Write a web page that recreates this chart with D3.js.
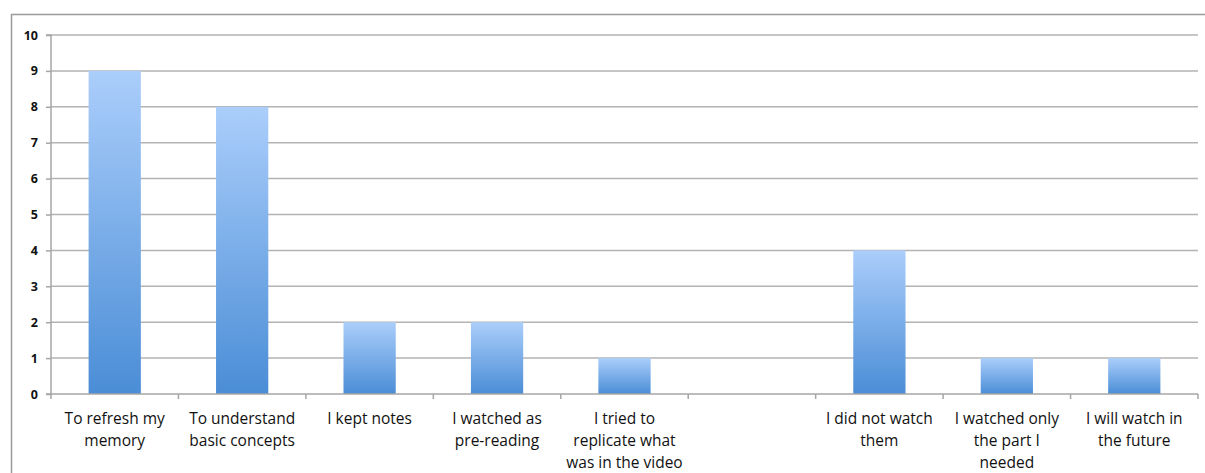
<!DOCTYPE html>
<html>
<head>
<meta charset="utf-8">
<script src="https://cdn.jsdelivr.net/npm/d3@7"></script>
<style>
  html, body { margin: 0; padding: 0; background: #fff; }
  svg { display: block; }
</style>
</head>
<body>
<svg id="chart" width="1205" height="473"></svg>
<script>
// Reasons given for watching (or not watching) the videos
const categories = [
  "To refresh my|memory",
  "To understand|basic concepts",
  "I kept notes",
  "I watched as|pre-reading",
  "I tried to|replicate what|was in the video",
  " ",
  "I did not watch|them",
  "I watched only|the part I|needed",
  "I will watch in|the future"
];
const counts = [9, 8, 2, 2, 1, null, 4, 1, 1];
const yTicks = [0, 1, 2, 3, 4, 5, 6, 7, 8, 9, 10];

const svg = d3.select("#chart");
const margin = { left: 51, right: 7, top: 35, bottom: 79 };
const W = 1205, H = 473;

const x = d3.scaleBand()
  .domain(categories)
  .range([margin.left, W - margin.right])
  .paddingInner(0.59)
  .paddingOuter(0.295);

const y = d3.scaleLinear().domain([0, 10]).range([H - margin.bottom, margin.top]);

// outer chart frame (top and left edges visible)
svg.append("path")
  .attr("d", `M11.5,${H} V14.5 H${W}`)
  .attr("fill", "none").attr("stroke", "#9a9a9a").attr("stroke-width", 1.5);

// bar gradient
const defs = svg.append("defs");
const grad = defs.append("linearGradient").attr("id", "barGrad")
  .attr("x1", 0).attr("y1", 0).attr("x2", 0).attr("y2", 1);
grad.append("stop").attr("offset", "0%").attr("stop-color", "#abcefb");
grad.append("stop").attr("offset", "100%").attr("stop-color", "#4a8dd6");

// horizontal gridlines
svg.append("g")
  .selectAll("line")
  .data(yTicks.filter(d => d > 0))
  .join("line")
  .attr("x1", margin.left).attr("x2", W - margin.right)
  .attr("y1", d => y(d)).attr("y2", d => y(d))
  .attr("stroke", "#b3b3b3").attr("stroke-width", 1.5);

// y axis
const yAxis = svg.append("g")
  .attr("transform", `translate(${margin.left},0)`)
  .call(d3.axisLeft(y).tickValues(yTicks).tickSize(5).tickPadding(8).tickFormat(d3.format("d")));
yAxis.select(".domain").attr("stroke", "#a6a6a6").attr("stroke-width", 1.5)
  .attr("d", `M-5,${y(10)}H0V${y(0)}H-5`);
yAxis.selectAll(".tick line").attr("stroke", "#a6a6a6").attr("stroke-width", 1.5);
yAxis.selectAll(".tick text")
  .attr("font-family", "'Open Sans', sans-serif")
  .attr("font-size", 12.5).attr("font-weight", "bold").attr("fill", "#111");

// bars
svg.append("g")
  .selectAll("rect")
  .data(categories.map((c, i) => ({ c, v: counts[i] })).filter(d => d.v != null))
  .join("rect")
  .attr("x", d => x(d.c))
  .attr("width", x.bandwidth())
  .attr("y", d => y(d.v))
  .attr("height", d => y(0) - y(d.v))
  .attr("fill", "url(#barGrad)");

// category axis
const step = x.step();
const xAxis = svg.append("g").attr("transform", `translate(0,${y(0)})`);
xAxis.append("line")
  .attr("x1", margin.left).attr("x2", W - margin.right)
  .attr("stroke", "#a6a6a6").attr("stroke-width", 1.5);
xAxis.selectAll("line.tick")
  .data(d3.range(categories.length + 1))
  .join("line").attr("class", "tick")
  .attr("x1", i => margin.left + i * step).attr("x2", i => margin.left + i * step)
  .attr("y1", 0).attr("y2", 5)
  .attr("stroke", "#a6a6a6").attr("stroke-width", 1.5);

const labels = xAxis.selectAll("text.cat")
  .data(categories)
  .join("text").attr("class", "cat")
  .attr("x", d => x(d) + x.bandwidth() / 2)
  .attr("y", 30)
  .attr("text-anchor", "middle")
  .attr("font-family", "'Open Sans', sans-serif")
  .attr("font-size", 15.5)
  .attr("fill", "#111");
labels.selectAll("tspan")
  .data(d => d.split("|"))
  .join("tspan")
  .attr("x", function () { return d3.select(this.parentNode).attr("x"); })
  .attr("dy", (d, i) => i === 0 ? 0 : 22)
  .text(d => d);
</script>
</body>
</html>
